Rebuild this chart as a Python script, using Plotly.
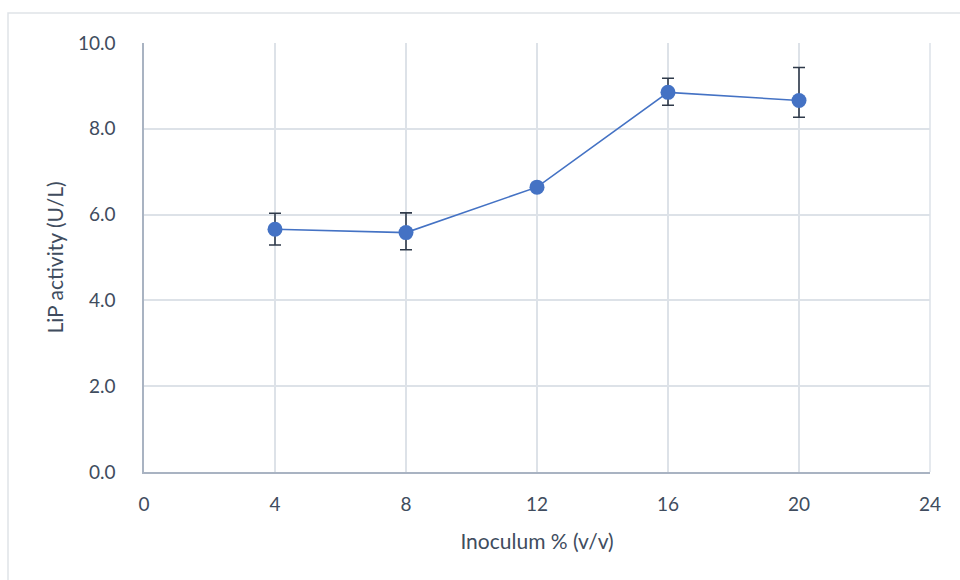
import plotly.graph_objects as go

inoculum = [4, 8, 12, 16, 20]
lip_activity = [5.66, 5.58, 6.64, 8.85, 8.66]
err_plus = [0.37, 0.46, 0.0, 0.33, 0.77]
err_minus = [0.37, 0.40, 0.0, 0.30, 0.39]
x_ticks = [0, 4, 8, 12, 16, 20, 24]
y_ticks = [0, 2, 4, 6, 8, 10]

text_col = "#404c5e"
grid_col = "#dde2e8"
axis_col = "#a9b3c2"

fig = go.Figure()
fig.add_trace(go.Scatter(
    x=inoculum, y=lip_activity, mode="lines+markers",
    line=dict(color="#4472C4", width=1.6),
    marker=dict(color="#4472C4", size=15),
    error_y=dict(type="data", symmetric=False, array=err_plus, arrayminus=err_minus,
                 color="#2f3a4a", thickness=1.6, width=6),
    showlegend=False,
))

fig.update_layout(
    width=960, height=580,
    margin=dict(l=144, r=30, t=43, b=108),
    paper_bgcolor="white", plot_bgcolor="white",
    font=dict(family="Lato, Open Sans, sans-serif", size=19, color=text_col),
    xaxis=dict(range=[0, 24], tickvals=x_ticks, ticktext=[str(v) for v in x_ticks],
               showgrid=True, gridcolor=grid_col, gridwidth=1.5,
               showline=True, linecolor=axis_col, linewidth=1.5, zeroline=False,
               ticks="", ticklabelstandoff=14, tickfont=dict(size=19),
               title=dict(text="Inoculum % (v/v)", font=dict(size=21, color=text_col), standoff=21)),
    yaxis=dict(range=[0, 10], tickvals=y_ticks, ticktext=[f"{v:.1f}" for v in y_ticks],
               showgrid=True, gridcolor=grid_col, gridwidth=1.5,
               showline=True, linecolor=axis_col, linewidth=1.5, zeroline=False,
               ticks="", ticklabelstandoff=23, tickfont=dict(size=19),
               title=dict(text="LiP activity (U/L)", font=dict(size=21, color=text_col), standoff=9)),
    shapes=[
        dict(type="line", xref="paper", yref="paper", x0=1, x1=1, y0=0, y1=1,
             line=dict(color=grid_col, width=1.5)),
        dict(type="rect", xref="paper", yref="paper",
             x0=(8 - 144) / 786, x1=(1000 - 144) / 786,
             y0=(472 - 640) / 429, y1=1 + 30 / 429,
             line=dict(color="#dfe3e8", width=1.5), layer="below"),
    ],
)

fig.write_html("out.html")
